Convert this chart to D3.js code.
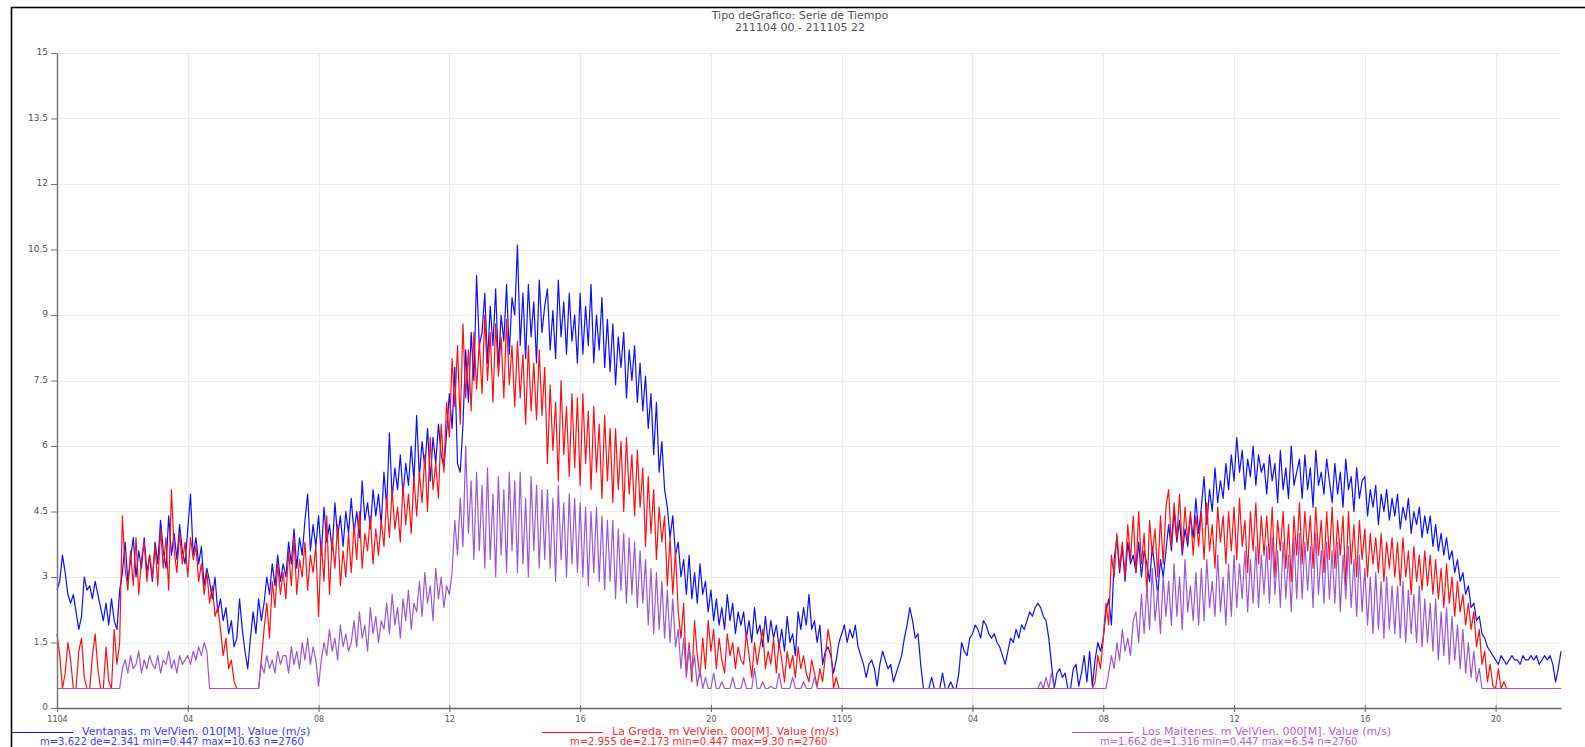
<!DOCTYPE html>
<html><head><meta charset="utf-8">
<script src="https://cdn.jsdelivr.net/npm/d3@7"></script>
<style>body{margin:0;background:#fff}svg{display:block}</style>
</head><body>
<svg id="chart" width="1585" height="747"></svg>
<script>
const titleLines = ["Tipo deGrafico: Serie de Tiempo", "211104 00 - 211105 22"];
const yTicks = [0, 1.5, 3, 4.5, 6, 7.5, 9, 10.5, 12, 13.5, 15];
const xTickHours = [0, 4, 8, 12, 16, 20, 24, 28, 32, 36, 40, 44];
const xTickLabels = ["1104", "04", "08", "12", "16", "20", "1105", "04", "08", "12", "16", "20"];
const stepHours = 5 / 60; // one value every 5 minutes, from 211104 00:00 (12 per row = 1 hour)

const ventanas = [
2.7,2.9,3.5,3.1,2.6,2.4,2.6,2.2,1.8,2.1,3.0,2.7,
2.8,2.5,2.9,2.6,2.3,2.0,2.4,1.9,2.5,2.0,1.8,2.7,
3.1,3.8,2.9,3.4,3.9,3.0,3.6,3.2,3.9,3.1,3.5,2.9,
3.8,3.3,4.3,3.6,3.2,4.4,3.5,4.0,3.4,4.2,3.6,3.3,
4.1,4.9,3.5,3.9,3.3,3.7,2.8,3.2,2.9,2.5,3.0,2.2,
2.5,2.0,2.3,1.7,2.0,1.4,1.6,2.5,1.8,1.3,0.9,1.6,
2.2,1.7,2.5,2.0,2.4,3.0,2.6,3.3,2.8,3.5,2.9,3.3,
3.0,3.8,3.3,4.1,3.2,3.9,3.5,4.3,4.9,3.6,4.2,3.7,
4.4,3.5,4.6,3.8,4.2,3.6,4.7,3.9,4.4,3.7,4.5,4.0,
4.8,4.0,4.5,3.9,5.2,4.3,4.7,4.1,5.0,4.4,4.9,4.2,
5.4,4.6,6.3,4.8,5.5,5.0,5.8,4.9,5.6,5.1,6.0,5.2,
6.7,5.3,6.1,5.5,6.4,5.2,6.2,5.6,6.5,5.8,5.5,6.3,
7.2,6.4,7.8,5.6,5.4,6.5,8.2,7.0,8.6,7.5,9.9,8.3,
8.6,9.5,7.9,9.2,8.3,9.6,7.8,9.0,8.4,9.7,8.1,9.4,
9.0,10.6,8.3,9.5,8.0,9.7,8.5,9.3,7.9,9.8,8.6,9.2,
9.6,8.2,9.1,8.0,9.8,8.5,9.3,8.1,9.5,8.4,9.0,7.9,
9.5,8.1,9.2,8.3,9.7,7.9,9.0,8.2,9.4,7.8,8.9,7.7,
8.8,7.4,8.5,7.8,8.6,7.1,8.2,7.5,8.3,7.0,7.9,6.8,
7.6,6.4,7.2,5.8,7.0,5.4,6.1,5.0,4.6,3.9,4.4,3.5,
3.8,3.0,3.4,2.6,3.5,2.5,3.1,2.4,3.3,2.6,2.9,2.2,
2.7,2.0,2.5,1.9,2.3,1.8,2.6,2.0,2.4,1.7,2.2,1.9,
2.2,1.6,2.0,1.5,2.3,1.7,1.9,1.4,2.1,1.5,2.0,1.6,
1.9,1.4,1.8,1.3,2.1,1.5,1.7,1.2,2.2,1.8,2.3,1.9,
2.6,1.8,2.0,1.5,1.9,1.0,1.3,1.4,1.2,0.8,1.1,1.5,
1.7,1.9,1.5,1.8,1.6,1.9,1.4,1.2,1.0,0.7,1.0,1.1,
0.9,0.5,1.0,1.3,1.1,0.9,1.0,0.6,0.8,1.0,1.2,1.6,
1.9,2.3,2.0,1.6,1.7,1.0,0.447,0.447,0.447,0.7,0.447,0.447,
0.447,0.8,0.447,0.447,0.6,0.447,0.447,0.8,1.5,1.3,1.2,1.6,
1.7,1.9,1.8,1.6,2.0,1.9,1.7,1.6,1.7,1.5,1.4,1.2,
1.0,1.3,1.6,1.5,1.8,1.6,1.9,1.8,2.0,2.2,2.1,2.3,
2.4,2.3,2.1,2.0,1.6,1.0,0.447,0.8,0.9,0.7,0.8,0.447,
0.447,0.9,1.0,0.5,0.8,1.2,0.6,1.3,0.5,1.1,1.5,1.3,
1.6,2.2,2.5,1.9,3.4,3.9,3.1,3.7,2.9,3.8,3.3,3.5,
3.1,3.8,3.0,3.6,3.3,2.9,3.7,3.2,2.6,3.4,3.0,3.6,
4.2,3.6,4.5,3.8,4.3,3.5,4.1,3.7,4.4,3.9,4.8,4.0,
4.6,5.3,4.2,5.0,4.5,5.5,4.7,5.2,4.8,5.6,5.0,5.8,
5.2,6.2,5.4,5.9,5.0,5.7,5.3,6.0,5.1,5.8,5.4,5.6,
4.9,5.8,5.2,5.6,4.7,5.9,5.0,5.5,4.8,6.0,5.1,5.4,
5.7,4.8,5.8,5.0,5.5,4.6,5.9,5.1,5.4,4.9,5.7,5.2,
4.7,5.6,4.9,5.4,4.6,5.7,5.0,5.3,4.5,5.5,4.8,5.2,
5.3,4.4,5.0,4.6,5.1,4.2,4.9,4.5,5.0,4.3,4.8,4.4,
4.9,4.1,4.6,4.3,4.8,4.0,4.5,4.2,4.6,3.9,4.4,4.0,
4.4,3.7,4.2,3.6,4.0,3.5,3.9,3.4,3.6,3.1,3.4,2.9,
3.1,2.6,2.8,2.3,2.4,2.0,2.1,1.7,1.6,1.4,1.3,1.2,
1.1,1.0,1.2,1.1,1.0,1.1,1.2,1.1,1.1,1.0,1.2,1.1,
1.1,1.2,1.1,1.2,1.0,1.1,1.2,1.1,1.2,1.0,0.6,0.9,
1.3
];

const laGreda = [
1.7,1.2,0.447,0.8,1.5,1.1,0.447,0.447,1.3,1.6,0.7,0.447,
0.447,1.2,1.7,0.9,0.447,0.447,1.4,0.6,0.447,1.8,1.0,1.5,
4.4,3.2,2.7,3.6,2.8,3.9,2.6,3.4,3.8,2.9,3.5,3.0,
3.7,2.8,4.1,3.2,3.9,2.7,5.0,3.6,3.1,4.0,3.3,3.8,
3.0,3.9,3.4,3.7,2.9,3.3,2.6,3.1,2.4,2.8,2.1,2.3,
1.8,1.2,1.6,0.9,1.1,0.6,0.447,0.447,0.447,0.447,0.447,0.447,
0.447,0.447,0.447,1.1,1.8,2.4,1.6,2.9,2.3,3.3,2.6,3.1,
2.5,3.6,2.8,3.9,2.6,3.4,3.0,3.8,2.7,3.5,3.1,3.7,
2.1,3.8,2.9,4.4,2.6,3.9,3.2,4.2,2.8,3.6,3.0,4.0,
3.1,4.2,3.4,4.5,3.2,4.0,3.6,4.4,3.3,4.1,3.5,4.3,
3.7,4.8,3.9,5.0,4.1,4.6,3.8,5.1,4.2,4.9,4.0,5.3,
4.4,5.4,4.7,5.8,4.5,6.2,5.0,5.6,4.8,6.5,5.4,7.0,
6.2,8.0,6.9,8.3,6.5,8.8,7.1,8.2,6.8,8.6,7.3,8.4,
7.2,9.0,7.5,8.6,7.0,8.8,7.6,8.5,7.1,8.9,7.4,8.3,
6.9,8.4,7.1,8.1,6.5,8.3,6.8,7.9,6.6,8.2,6.7,7.8,
5.6,7.4,5.9,7.0,5.2,7.5,5.8,6.9,5.3,7.2,5.5,7.1,
5.1,7.2,5.6,6.8,5.0,6.9,5.4,6.5,4.8,6.7,5.2,6.4,
4.7,6.4,5.0,6.1,4.5,6.2,4.9,5.8,4.4,5.9,4.6,5.5,
3.7,5.3,4.0,5.0,3.4,4.6,3.8,4.4,2.8,3.9,2.6,3.6,
2.2,1.6,2.4,0.8,1.5,0.6,2.0,1.2,0.7,1.6,0.9,2.0,
1.3,1.8,0.9,1.6,1.1,0.8,1.7,1.2,1.5,0.9,1.4,1.1,
1.0,1.7,1.2,0.7,1.5,1.0,1.4,1.8,0.9,1.3,1.0,1.6,
0.8,1.5,1.1,0.6,1.3,0.9,1.2,0.7,1.4,0.9,1.2,0.8,
0.6,1.1,0.8,0.5,0.9,0.6,1.2,1.8,1.4,0.447,0.7,0.447,
0.447,0.447,0.447,0.447,0.447,0.447,0.447,0.447,0.447,0.447,0.447,0.447,
0.447,0.447,0.447,0.447,0.447,0.447,0.447,0.447,0.447,0.447,0.447,0.447,
0.447,0.447,0.447,0.447,0.447,0.447,0.447,0.447,0.447,0.447,0.447,0.447,
0.447,0.447,0.447,0.447,0.447,0.447,0.447,0.447,0.447,0.447,0.447,0.447,
0.447,0.447,0.447,0.447,0.447,0.447,0.447,0.447,0.447,0.447,0.447,0.447,
0.447,0.447,0.447,0.447,0.447,0.447,0.447,0.447,0.447,0.447,0.447,0.447,
0.447,0.447,0.447,0.447,0.447,0.447,0.447,0.447,0.447,0.447,0.447,0.447,
0.447,0.447,0.447,0.447,0.447,0.447,0.447,0.447,0.447,0.6,1.2,0.9,
1.6,2.4,1.9,3.5,3.0,4.0,3.2,3.8,3.0,4.2,3.4,4.4,
3.1,4.5,3.3,4.0,2.6,4.3,3.5,4.1,3.0,4.4,3.3,4.6,
5.0,3.7,4.7,3.9,4.9,3.6,4.6,3.8,4.5,3.5,4.4,3.7,
4.5,3.4,4.7,3.6,4.2,3.2,4.6,3.8,4.4,3.3,4.5,3.6,
4.6,3.4,4.8,3.7,4.3,3.1,4.5,3.6,4.7,3.3,4.4,3.5,
4.4,3.4,4.6,3.0,4.3,3.6,4.5,3.2,4.2,2.9,4.4,3.5,
4.7,3.3,4.5,3.6,4.4,3.2,4.6,3.5,4.3,3.1,4.5,3.4,
4.6,3.2,4.3,3.5,4.4,2.8,4.5,3.3,4.2,3.0,4.3,3.4,
4.1,3.0,4.0,3.3,3.9,3.1,4.0,2.9,3.8,3.2,3.9,3.0,
3.8,2.8,3.9,3.0,3.6,2.6,3.7,2.9,3.5,2.7,3.6,2.8,
3.5,2.6,3.4,2.5,3.2,2.3,3.3,2.4,3.0,2.1,2.9,2.2,
2.6,1.9,2.4,1.8,2.2,1.4,1.8,1.0,1.3,0.6,1.0,0.5,
0.447,0.9,0.447,0.6,0.447,0.447,0.447,0.447,0.447,0.447,0.447,0.447,
0.447,0.447,0.447,0.447,0.447,0.447,0.447,0.447,0.447,0.447,0.447,0.447,
0.447
];

const losMaitenes = [
0.447,0.447,0.447,0.447,0.447,0.447,0.447,0.447,0.447,0.447,0.447,0.447,
0.447,0.447,0.447,0.447,0.447,0.447,0.447,0.447,0.447,0.447,0.447,0.447,
0.9,1.1,0.8,1.2,0.9,1.0,1.3,0.8,1.1,0.9,1.2,1.0,
0.9,1.2,0.8,1.1,1.0,1.3,0.9,1.1,0.8,1.2,1.0,1.1,
1.2,1.0,1.3,1.1,1.4,1.2,1.5,1.3,0.447,0.447,0.447,0.447,
0.447,0.447,0.447,0.447,0.447,0.447,0.447,0.447,0.447,0.447,0.447,0.447,
0.447,0.447,0.447,1.0,0.8,1.2,0.9,1.1,0.8,1.3,1.0,1.2,
1.2,0.8,1.4,1.0,1.3,0.9,1.5,1.1,1.6,1.0,1.4,1.1,
0.5,1.1,1.5,1.2,1.8,1.3,1.6,1.1,1.9,1.4,1.7,1.3,
1.5,2.0,1.4,2.2,1.6,1.9,1.3,2.3,1.7,2.1,1.5,2.0,
1.8,2.4,1.7,2.6,1.9,2.3,1.6,2.5,2.0,2.7,1.8,2.4,
2.2,2.9,2.1,3.1,2.4,2.8,2.0,3.2,2.5,3.0,2.3,2.8,
2.6,3.1,4.3,3.5,4.8,3.7,6.0,4.0,5.2,3.4,5.4,3.6,
5.1,3.2,5.5,3.4,4.9,3.0,5.3,3.5,5.0,3.1,5.4,3.6,
5.2,3.1,5.4,3.3,4.8,3.0,5.3,3.6,5.1,3.2,5.0,3.4,
5.0,3.2,4.8,2.9,5.1,3.4,4.7,3.0,4.9,3.3,4.8,3.1,
4.7,3.0,4.6,2.8,4.5,3.1,4.6,2.9,4.4,2.7,4.3,2.9,
4.3,2.5,4.1,2.7,4.0,2.4,3.9,2.6,3.8,2.3,3.6,2.4,
3.4,1.9,3.2,1.7,3.1,1.8,2.9,1.6,2.7,1.5,2.5,1.4,
1.8,0.9,1.6,0.7,1.4,0.8,1.2,0.5,0.9,0.447,0.7,0.447,
0.447,0.8,0.447,0.447,0.6,0.447,0.447,0.447,0.7,0.447,0.447,0.447,
0.7,0.447,0.447,0.447,0.9,0.447,0.447,0.6,0.447,0.447,0.5,0.447,
0.447,0.8,0.447,0.447,0.447,0.447,0.7,0.447,0.447,0.447,0.6,0.447,
0.447,0.447,0.7,0.447,0.447,0.447,0.447,0.447,0.447,0.447,0.447,0.447,
0.447,0.447,0.447,0.447,0.447,0.447,0.447,0.447,0.447,0.447,0.447,0.447,
0.447,0.447,0.447,0.447,0.447,0.447,0.447,0.447,0.447,0.447,0.447,0.447,
0.447,0.447,0.447,0.447,0.447,0.447,0.447,0.447,0.447,0.447,0.447,0.447,
0.447,0.447,0.447,0.447,0.447,0.447,0.447,0.447,0.447,0.447,0.447,0.447,
0.447,0.447,0.447,0.447,0.447,0.447,0.447,0.447,0.447,0.447,0.447,0.447,
0.447,0.447,0.447,0.447,0.447,0.447,0.447,0.447,0.447,0.447,0.447,0.447,
0.447,0.6,0.447,0.7,0.447,0.8,0.447,0.447,0.447,0.447,0.447,0.447,
0.447,0.447,0.447,0.447,0.447,0.447,0.447,0.447,0.447,0.447,0.447,0.447,
0.447,0.447,0.8,1.2,0.9,1.5,1.1,1.8,1.3,1.6,1.2,2.0,
2.2,1.5,2.6,1.7,2.8,1.8,3.2,2.0,2.7,1.7,3.0,2.1,
2.9,1.9,3.3,2.1,3.0,1.8,3.4,2.2,2.8,2.0,3.1,1.9,
3.2,2.0,3.4,2.3,2.9,2.1,3.5,2.2,3.0,1.9,3.3,2.1,
3.5,2.3,3.3,2.5,3.6,2.2,3.4,2.4,3.7,2.3,3.5,2.6,
3.7,2.4,3.9,2.6,3.6,2.3,3.8,2.5,3.5,2.2,3.9,2.5,
4.0,2.5,3.8,2.7,3.7,2.3,4.0,2.6,3.6,2.4,3.8,2.5,
3.6,2.4,3.8,2.2,3.5,2.5,3.7,2.3,3.4,2.1,3.5,2.2,
3.2,1.9,3.0,1.7,3.1,1.8,2.9,1.6,3.0,1.8,2.8,1.7,
2.8,1.6,2.9,1.5,2.7,1.7,2.6,1.5,2.8,1.4,2.5,1.5,
2.4,1.3,2.5,1.1,2.2,1.2,2.3,1.0,2.1,1.1,1.9,0.9,
1.8,0.8,1.5,0.7,1.3,0.6,0.9,0.447,0.447,0.447,0.447,0.447,
0.447,0.447,0.447,0.447,0.447,0.447,0.447,0.447,0.447,0.447,0.447,0.447,
0.447,0.447,0.447,0.447,0.447,0.447,0.447,0.447,0.447,0.447,0.447,0.447,
0.447
];

const seriesLabels = [
  "Ventanas. m VelVien. 010[M]. Value (m/s)",
  "La Greda. m VelVien. 000[M]. Value (m/s)",
  "Los Maitenes. m VelVien. 000[M]. Value (m/s)"
];
const seriesStats = [
  "m=3.622 de=2.341 min=0.447 max=10.63 n=2760",
  "m=2.955 de=2.173 min=0.447 max=9.30 n=2760",
  "m=1.662 de=1.316 min=0.447 max=6.54 n=2760"
];
const seriesColors = ["#0f0fff", "#ff1010", "#9a58d8"];
const legendTextColors = ["#3a3aff", "#ff2a2a", "#b85ee0"];

const series = [ventanas, laGreda, losMaitenes];
const FONT = "DejaVu Sans, Verdana, sans-serif";

const svg = d3.select("#chart");
const x = d3.scaleLinear().domain([0, 46]).range([57, 1561]);
const y = d3.scaleLinear().domain([0, 15]).range([708, 53]);

// frame
svg.append("rect").attr("x", 11.5).attr("y", 7.5).attr("width", 1700).attr("height", 900)
  .attr("fill", "none").attr("stroke", "#000").attr("stroke-width", 1.6);

// title
svg.append("g").selectAll("text").data(titleLines).join("text")
  .attr("x", 800).attr("y", (d, i) => 19 + i * 12)
  .attr("text-anchor", "middle").attr("font-family", FONT)
  .attr("font-size", 11).attr("fill", "#555").text(d => d);

// grid
const grid = svg.append("g").attr("stroke", "#ececec").attr("stroke-width", 1);
grid.selectAll("line.h").data(yTicks.filter(d => d > 0)).join("line")
  .attr("x1", x(0)).attr("x2", x(46)).attr("y1", d => Math.round(y(d)) + 0.5).attr("y2", d => Math.round(y(d)) + 0.5);
grid.selectAll("line.v").data(xTickHours.filter(d => d > 0)).join("line")
  .attr("y1", y(15)).attr("y2", y(0)).attr("x1", d => Math.round(x(d)) + 0.5).attr("x2", d => Math.round(x(d)) + 0.5);

// lines
const line = d3.line().x((d, i) => x(i * stepHours)).y(d => y(d));
const plot = svg.append("g");
series.forEach((s, k) => {
  plot.append("path").datum(s).attr("d", line)
    .attr("fill", "none").attr("stroke", seriesColors[k]).attr("stroke-width", 1.2)
    .attr("stroke-linejoin", "round");
});

// axes
const yAxis = d3.axisLeft(y).tickValues(yTicks).tickSize(6).tickSizeOuter(0).tickPadding(3)
  .tickFormat(d => String(d));
const gy = svg.append("g").attr("transform", `translate(${x(0)},0)`).call(yAxis);
gy.select(".domain").attr("stroke", "#777").attr("stroke-width", 1.5);
gy.selectAll(".tick line").attr("stroke", "#777");
gy.selectAll(".tick text").attr("font-family", FONT)
  .attr("font-size", 9).attr("fill", "#555").attr("dy", "0.2em");

const xAxis = d3.axisBottom(x).tickValues(xTickHours).tickSize(4).tickSizeOuter(0).tickPadding(4)
  .tickFormat((d, i) => xTickLabels[i]);
const gx = svg.append("g").attr("transform", `translate(0,${y(0)})`).call(xAxis);
gx.select(".domain").attr("stroke", "#666").attr("stroke-width", 1.5);
gx.selectAll(".tick line").attr("stroke", "#666").attr("y1", -3);
gx.selectAll(".tick text").attr("font-family", FONT)
  .attr("font-size", 8).attr("fill", "#555");

// legend
const legendX = [12, 542, 1072];
const leg = svg.append("g").attr("font-family", FONT);
seriesLabels.forEach((lab, k) => {
  const lx = legendX[k];
  leg.append("line").attr("x1", lx).attr("x2", lx + 61).attr("y1", 732.5).attr("y2", 732.5)
    .attr("stroke", seriesColors[k]).attr("stroke-width", 1);
  leg.append("text").attr("x", lx + 70).attr("y", 735).attr("font-size", 11)
    .attr("fill", legendTextColors[k]).text(lab);
  leg.append("text").attr("x", lx + 28).attr("y", 745).attr("font-size", 10)
    .attr("fill", legendTextColors[k]).text(seriesStats[k]);
});
</script>
</body></html>
